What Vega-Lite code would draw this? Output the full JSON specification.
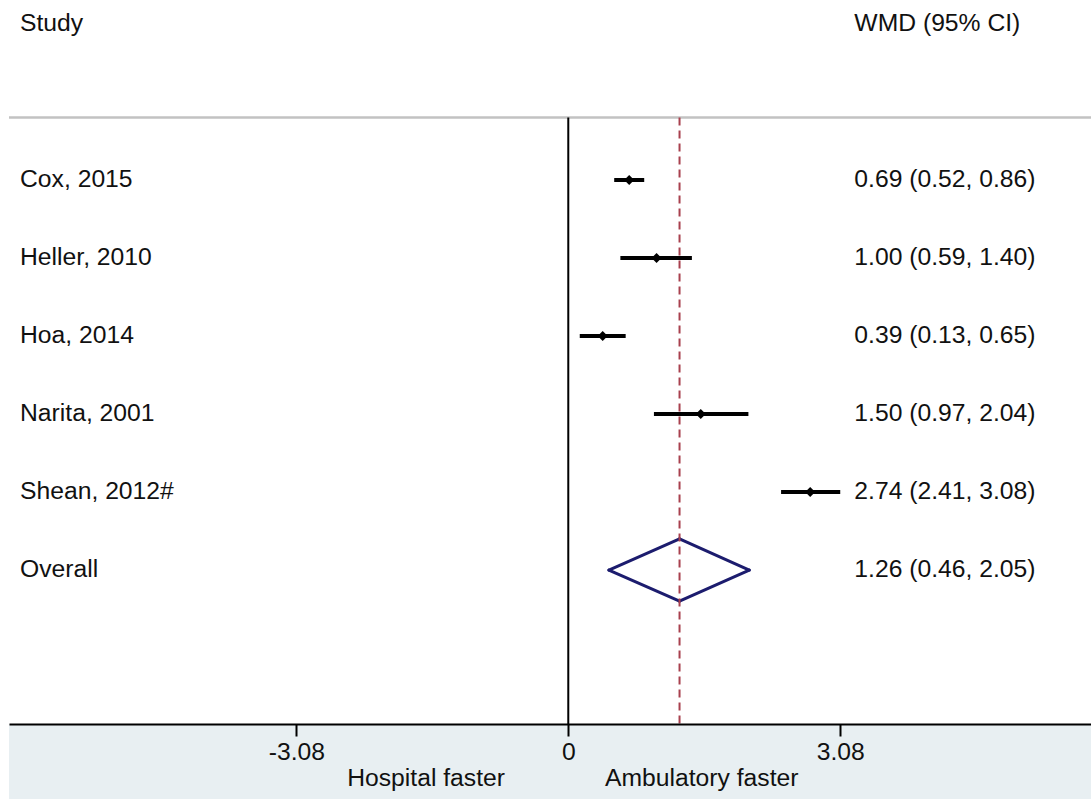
{
  "$schema": "https://vega.github.io/schema/vega-lite/v6.json",
  "width": 1082,
  "height": 724,
  "autosize": {"type": "none"},
  "padding": {"left": 9, "top": 0, "right": 0, "bottom": 75},
  "background": "white",
  "config": {"view": {"stroke": null}},
  "data": {
    "values": [
      {"study": "Cox, 2015", "row": 1, "est": 0.69, "lo": 0.52, "hi": 0.86, "label": "0.69 (0.52, 0.86)", "kind": "study"},
      {"study": "Heller, 2010", "row": 2, "est": 1.00, "lo": 0.59, "hi": 1.40, "label": "1.00 (0.59, 1.40)", "kind": "study"},
      {"study": "Hoa, 2014", "row": 3, "est": 0.39, "lo": 0.13, "hi": 0.65, "label": "0.39 (0.13, 0.65)", "kind": "study"},
      {"study": "Narita, 2001", "row": 4, "est": 1.50, "lo": 0.97, "hi": 2.04, "label": "1.50 (0.97, 2.04)", "kind": "study"},
      {"study": "Shean, 2012#", "row": 5, "est": 2.74, "lo": 2.41, "hi": 3.08, "label": "2.74 (2.41, 3.08)", "kind": "study"},
      {"study": "Overall", "row": 6, "est": 1.26, "lo": 0.46, "hi": 2.05, "label": "1.26 (0.46, 2.05)", "kind": "overall"}
    ]
  },
  "layer": [
    {
      "data": {"values": [{}]},
      "mark": {"type": "rect", "color": "#e8eff2"},
      "encoding": {
        "x": {"datum": -6.334, "type": "quantitative", "scale": {"domain": [-6.334, 5.92], "nice": false, "zero": false}},
        "x2": {"datum": 5.92},
        "y": {"datum": 7.974, "type": "quantitative", "axis": null, "scale": {"domain": [-1.308, 7.974], "nice": false, "zero": false, "reverse": true}},
        "y2": {"datum": 9.0}
      }
    },
    {
      "data": {"values": [{}]},
      "mark": {"type": "rule", "color": "#c2c2c2", "strokeWidth": 2.5},
      "encoding": {
        "x": {"datum": -6.334, "type": "quantitative"},
        "x2": {"datum": 5.92},
        "y": {"datum": 0.2, "type": "quantitative", "axis": null}
      }
    },
    {
      "data": {"values": [{}]},
      "mark": {"type": "rule", "color": "#000000", "strokeWidth": 2},
      "encoding": {
        "x": {"datum": 0, "type": "quantitative"},
        "y": {"datum": 0.2, "type": "quantitative", "axis": null},
        "y2": {"datum": 7.974}
      }
    },
    {
      "transform": [{"filter": "datum.kind === 'study'"}],
      "mark": {"type": "rule", "color": "#000000", "strokeWidth": 4},
      "encoding": {
        "x": {
          "field": "lo", "type": "quantitative",
          "scale": {"domain": [-6.334, 5.92], "nice": false, "zero": false},
          "axis": {
            "values": [-3.08, 0, 3.08],
            "title": null,
            "grid": false,
            "zindex": 1,
            "domainColor": "#000000",
            "domainWidth": 2,
            "tickColor": "#000000",
            "tickWidth": 2,
            "tickSize": 12,
            "labelFont": "Liberation Sans",
            "labelFontSize": 24.7,
            "labelColor": "#111111",
            "labelPadding": 3,
            "labelFlush": false,
            "labelOverlap": false,
            "labelExpr": "datum.value < 0 ? '-' + format(-datum.value, '.2f') : (datum.value == 0 ? '0' : format(datum.value, '.2f'))"
          }
        },
        "x2": {"field": "hi"},
        "y": {"field": "row", "type": "quantitative", "axis": null, "scale": {"domain": [-1.308, 7.974], "nice": false, "zero": false, "reverse": true}}
      }
    },
    {
      "transform": [{"filter": "datum.kind === 'study'"}],
      "mark": {"type": "point", "shape": "diamond", "filled": true, "color": "#000000", "size": 100, "opacity": 1},
      "encoding": {
        "x": {"field": "est", "type": "quantitative"},
        "y": {"field": "row", "type": "quantitative", "axis": null}
      }
    },
    {
      "transform": [{"filter": "datum.kind === 'overall'"}],
      "mark": {"type": "rule", "color": "#1c1c6e", "strokeWidth": 3, "strokeCap": "round"},
      "encoding": {
        "x": {"field": "lo", "type": "quantitative"},
        "x2": {"field": "est"},
        "y": {"datum": 6, "type": "quantitative", "axis": null},
        "y2": {"datum": 5.6}
      }
    },
    {
      "transform": [{"filter": "datum.kind === 'overall'"}],
      "mark": {"type": "rule", "color": "#1c1c6e", "strokeWidth": 3, "strokeCap": "round"},
      "encoding": {
        "x": {"field": "est", "type": "quantitative"},
        "x2": {"field": "hi"},
        "y": {"datum": 5.6, "type": "quantitative", "axis": null},
        "y2": {"datum": 6}
      }
    },
    {
      "transform": [{"filter": "datum.kind === 'overall'"}],
      "mark": {"type": "rule", "color": "#1c1c6e", "strokeWidth": 3, "strokeCap": "round"},
      "encoding": {
        "x": {"field": "hi", "type": "quantitative"},
        "x2": {"field": "est"},
        "y": {"datum": 6, "type": "quantitative", "axis": null},
        "y2": {"datum": 6.4}
      }
    },
    {
      "transform": [{"filter": "datum.kind === 'overall'"}],
      "mark": {"type": "rule", "color": "#1c1c6e", "strokeWidth": 3, "strokeCap": "round"},
      "encoding": {
        "x": {"field": "est", "type": "quantitative"},
        "x2": {"field": "lo"},
        "y": {"datum": 6.4, "type": "quantitative", "axis": null},
        "y2": {"datum": 6}
      }
    },
    {
      "transform": [{"filter": "datum.kind === 'overall'"}],
      "mark": {"type": "rule", "color": "#a8404e", "strokeWidth": 2, "strokeDash": [8, 5]},
      "encoding": {
        "x": {"field": "est", "type": "quantitative"},
        "y": {"datum": 0.2, "type": "quantitative", "axis": null},
        "y2": {"datum": 7.974}
      }
    },
    {
      "mark": {"type": "text", "font": "Liberation Sans", "fontSize": 24.7, "color": "#111111", "align": "left", "baseline": "middle"},
      "encoding": {
        "x": {"datum": -6.209, "type": "quantitative"},
        "y": {"field": "row", "type": "quantitative", "axis": null},
        "text": {"field": "study"}
      }
    },
    {
      "mark": {"type": "text", "font": "Liberation Sans", "fontSize": 24.7, "color": "#111111", "align": "left", "baseline": "middle"},
      "encoding": {
        "x": {"datum": 3.24, "type": "quantitative"},
        "y": {"field": "row", "type": "quantitative", "axis": null},
        "text": {"field": "label"}
      }
    },
    {
      "data": {"values": [{}]},
      "mark": {"type": "text", "font": "Liberation Sans", "fontSize": 24.7, "color": "#111111", "align": "left", "baseline": "middle", "text": "Study"},
      "encoding": {
        "x": {"datum": -6.209, "type": "quantitative"},
        "y": {"datum": -1, "type": "quantitative", "axis": null}
      }
    },
    {
      "data": {"values": [{}]},
      "mark": {"type": "text", "font": "Liberation Sans", "fontSize": 24.7, "color": "#111111", "align": "left", "baseline": "middle", "text": "WMD (95% CI)"},
      "encoding": {
        "x": {"datum": 3.24, "type": "quantitative"},
        "y": {"datum": -1, "type": "quantitative", "axis": null}
      }
    },
    {
      "data": {"values": [{}]},
      "mark": {"type": "text", "font": "Liberation Sans", "fontSize": 24.7, "color": "#111111", "align": "right", "baseline": "middle", "text": "Hospital faster"},
      "encoding": {
        "x": {"datum": -0.717, "type": "quantitative"},
        "y": {"datum": 8.68, "type": "quantitative", "axis": null}
      }
    },
    {
      "data": {"values": [{}]},
      "mark": {"type": "text", "font": "Liberation Sans", "fontSize": 24.7, "color": "#111111", "align": "left", "baseline": "middle", "text": "Ambulatory faster"},
      "encoding": {
        "x": {"datum": 0.416, "type": "quantitative"},
        "y": {"datum": 8.68, "type": "quantitative", "axis": null}
      }
    }
  ]
}
